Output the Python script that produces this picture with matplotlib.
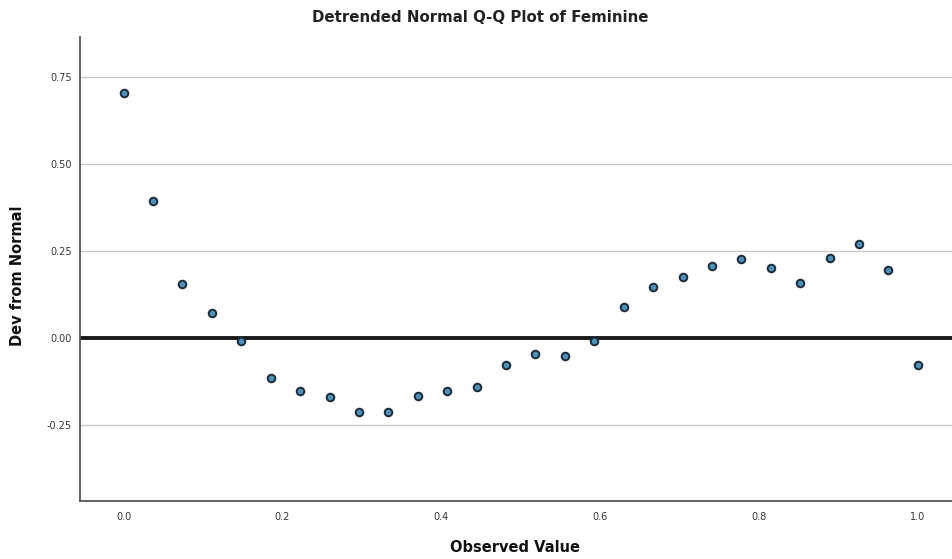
import matplotlib
matplotlib.use("Agg")
import matplotlib.pyplot as plt
import numpy as np

# Data
observed = [k / 27 for k in range(28)]
deviation = [0.704, 0.395, 0.156, 0.072, -0.007, -0.115, -0.151, -0.170,
             -0.213, -0.212, -0.167, -0.152, -0.140, -0.078, -0.044, -0.051,
             -0.007, 0.091, 0.147, 0.175, 0.208, 0.228, 0.201, 0.158,
             0.230, 0.271, 0.195, -0.077]
xticks = [0.0, 0.2, 0.4, 0.6, 0.8, 1.0]
xtick_labels = ["0.0", "0.2", "0.4", "0.6", "0.8", "1.0"]
yticks = [-0.25, 0.00, 0.25, 0.50, 0.75]
ytick_labels = ["-0.25", "0.00", "0.25", "0.50", "0.75"]

fig = plt.figure(figsize=(9.52, 5.59), dpi=100)
ax = fig.add_axes([0.084, 0.104, 0.916, 0.830])

ax.set_xlim(-0.055, 1.043)
ax.set_ylim(-0.4675, 0.866)

for yv in yticks:
    if yv != 0:
        ax.axhline(yv, color="#c8c8c8", lw=1.0, zorder=1)
ax.axhline(0.0, color="#1a1a1a", lw=2.8, zorder=2)

ax.scatter(observed, deviation, s=30, facecolor="#4f90b8", edgecolor="#1c2b3a",
           linewidths=1.4, zorder=3)

ax.set_xticks(xticks)
ax.set_xticklabels(xtick_labels)
ax.set_yticks(yticks)
ax.set_yticklabels(ytick_labels)
ax.tick_params(axis="x", length=0, labelsize=7, colors="#333333", pad=8)
ax.tick_params(axis="y", length=0, labelsize=7, colors="#333333", pad=6)

for s in ["top", "right"]:
    ax.spines[s].set_visible(False)
for s in ["left", "bottom"]:
    ax.spines[s].set_color("#555555")
    ax.spines[s].set_linewidth(1.3)

fig.text(515 / 952, 1 - 548 / 559, "Observed Value", ha="center", va="center",
         fontsize=10.5, fontweight="bold", color="#111111")
fig.text(18 / 952, 1 - 276 / 559, "Dev from Normal", ha="center", va="center",
         rotation=90, fontsize=10.5, fontweight="bold", color="#111111")
fig.text(480 / 952, 1 - 18 / 559, "Detrended Normal Q-Q Plot of Feminine",
         ha="center", va="center", fontsize=10.8, fontweight="semibold",
         color="#222222")

fig.savefig("out.png", dpi=100, facecolor="white")
